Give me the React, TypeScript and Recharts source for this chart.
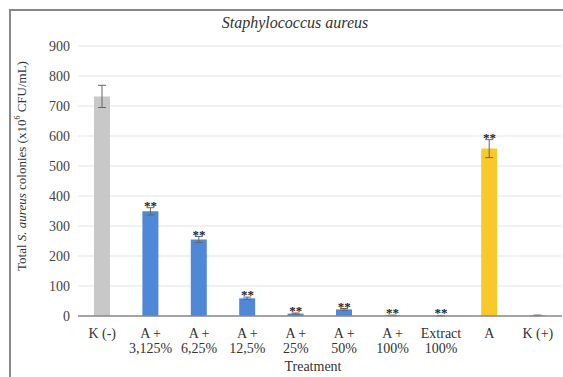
import React from "react";
import {
  ComposedChart, Bar, Line, XAxis, YAxis, CartesianGrid,
  ErrorBar, Cell, LabelList, Label,
} from "recharts";

const categories = [
  "K (-)", "A +\n3,125%", "A +\n6,25%", "A +\n12,5%", "A +\n25%",
  "A +\n50%", "A +\n100%", "Extract\n100%", "A", "K (+)",
];
const colonies = [732, 349, 255, 59, 8, 22, 2, 1, 558, 2];
const errors = [37, 12, 10, 4, 2, 3, 1, 1, 30, 1];
const stars = ["", "**", "**", "**", "**", "**", "**", "**", "**", ""];
const yTicks = [0, 100, 200, 300, 400, 500, 600, 700, 800, 900];

const data = categories.map((c, i) => ({
  label: c,
  value: colonies[i],
  err: errors[i],
  starAt: colonies[i] + errors[i],
  stars: stars[i],
}));

const barColors = [
  "#c8c8c8", "#4f88d6", "#4f88d6", "#4f88d6", "#4f88d6",
  "#4f88d6", "#4f88d6", "#4f88d6", "#f9c82b", "#e06060",
];

const serif = "'Liberation Serif', 'Times New Roman', serif";

function CategoryTick({ x, y, payload }: { x?: number; y?: number; payload?: { value: string } }) {
  const lines = String(payload?.value ?? "").split("\n");
  return (
    <text x={x} y={(y ?? 0) + 14} textAnchor="middle" fill="#333" fontSize={14} fontFamily={serif}>
      {lines.map((l, i) => (
        <tspan key={i} x={x} dy={i === 0 ? 0 : 15}>{l}</tspan>
      ))}
    </text>
  );
}

function YTitle() {
  const cx = 23;
  const cy = 166;
  return (
    <text
      x={cx} y={cy} transform={`rotate(-90 ${cx} ${cy})`}
      textAnchor="middle" dominantBaseline="middle"
      fill="#333" fontSize={13} fontFamily={serif}
    >
      Total <tspan fontStyle="italic">S. aureus</tspan> colonies (x10
      <tspan fontSize={8} dy={-5}>6</tspan>
      <tspan dy={5}> CFU/mL)</tspan>
    </text>
  );
}

export default function App() {
  return (
    <div style={{ position: "absolute", left: 0, top: 0, width: 563, height: 377, overflow: "hidden", background: "#fff" }}>
      <div style={{
        position: "absolute", left: 9, top: 9, width: 600, height: 420,
        borderTop: "2px solid #888", borderLeft: "2px solid #888",
      }} />
      <div style={{
        position: "absolute", left: 0, top: 14, width: 590, textAlign: "center",
        fontFamily: serif, fontStyle: "italic", fontSize: 16, color: "#333",
      }}>
        Staphylococcus aureus
      </div>
      <div style={{ position: "absolute", left: 0, top: 0 }}>
        <ComposedChart
          width={563} height={377} data={data}
          margin={{ top: 46, right: 1, left: 18, bottom: 6 }}
        >
          <CartesianGrid stroke="#e3e3e3" vertical={false} />
          <XAxis
            dataKey="label" interval={0} height={55}
            tick={<CategoryTick />} tickLine={false}
            axisLine={{ stroke: "#8a8a8a", strokeWidth: 1.5 }}
          >
            <Label value="Treatment" position="insideBottom" offset={0} dx={-7}
              style={{ fontFamily: serif, fontSize: 14, fill: "#333" }} />
          </XAxis>
          <YAxis
            width={60} domain={[0, 900]} ticks={yTicks} interval={0}
            axisLine={false} tickLine={false}
            tick={{ fill: "#444", fontSize: 14, fontFamily: serif }}
          >
            <Label content={<YTitle />} />
          </YAxis>
          <Bar dataKey="value" barSize={16} isAnimationActive={false}>
            {data.map((_, i) => (
              <Cell key={i} fill={barColors[i]} />
            ))}
            <ErrorBar dataKey="err" width={4} stroke="#666" strokeWidth={1} isAnimationActive={false} />
          </Bar>
          <Line
            dataKey="starAt" stroke="none" dot={false} activeDot={false}
            isAnimationActive={false} legendType="none"
          >
            <LabelList dataKey="stars" position="top" offset={-2}
              style={{ fontFamily: serif, fontSize: 13, fill: "#222", fontWeight: "bold" }} />
          </Line>
        </ComposedChart>
      </div>
    </div>
  );
}
